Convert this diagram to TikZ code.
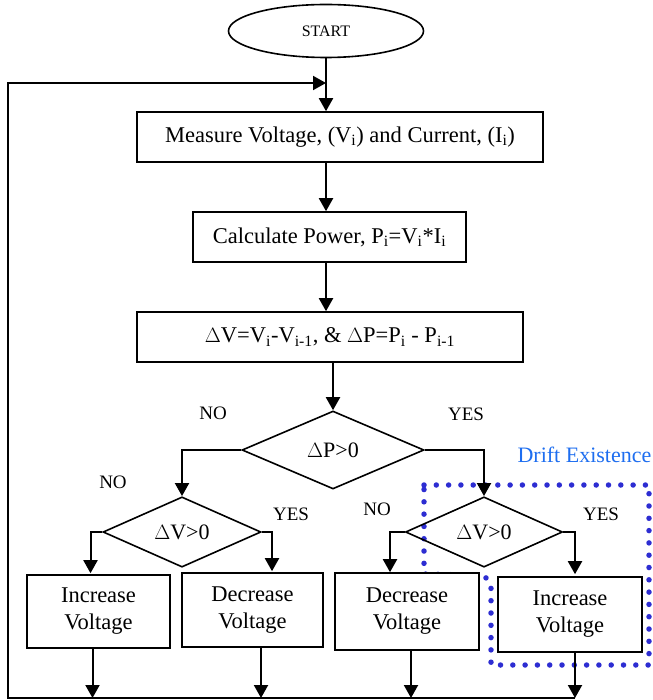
\documentclass[tikz,border=0pt]{standalone}
\usepackage{fontspec}
\setmainfont{Liberation Serif}
\usetikzlibrary{shapes.geometric,arrows.meta,calc}
\definecolor{driftblue}{RGB}{30,110,240}
\definecolor{dotblue}{RGB}{45,45,210}
\tikzset{
  box/.style={draw, fill=white, line width=1.6pt, inner sep=2pt, font=\fontsize{22.5}{27}\selectfont, align=center},
  dec/.style={draw, diamond, line width=1.6pt, inner sep=0pt, font=\fontsize{22}{25}\selectfont},
  arr/.style={line width=2pt, -{Triangle[length=13pt,width=14pt]}},
  lbl/.style={font=\fontsize{19}{20}\selectfont},
  dotline/.style={dotblue, line width=5.5pt, line cap=round, dash pattern=on 0pt off 12.3pt}
}
\begin{document}
\begin{tikzpicture}[x=1pt,y=-1pt]
\clip (0,0) rectangle (652,700);
\fill[white] (0,0) rectangle (652,700);
% drift box (behind the boxes)
\draw[dotline] (424,485) -- (649,485) -- (649,665) -- (491,665) -- (491,584) -- (484,575.5) -- (424,574) -- cycle;
% nodes
\node[draw, ellipse, line width=1.6pt, minimum width=195pt, minimum height=53pt, font=\fontsize{16}{18}\selectfont] (start) at (326,31) {START};
\node[box, minimum width=406pt, minimum height=50pt] (b1) at (340,137) {Measure Voltage, (V\textsubscript{i}) and Current, (I\textsubscript{i})};
\node[box, minimum width=273pt, minimum height=50pt] (b2) at (329.5,237) {Calculate Power, P\textsubscript{i}=V\textsubscript{i}*I\textsubscript{i}};
\node[box, minimum width=386pt, minimum height=50pt] (b3) at (330,337) {$\Delta$V=V\textsubscript{i}-V\textsubscript{i-1}, \& $\Delta$P=P\textsubscript{i} - P\textsubscript{i-1}};
\node[dec, minimum width=182pt, minimum height=78pt] (d1) at (333,450) {$\Delta$P>0};
\node[dec, minimum width=158pt, minimum height=64pt] (d2) at (182,532) {$\Delta$V>0};
\node[dec, minimum width=157pt, minimum height=64pt] (d3) at (484,532) {$\Delta$V>0};
\node[box, minimum width=143pt, minimum height=73pt] (bA) at (98.5,611.5) {Increase\\Voltage};
\node[box, minimum width=141pt, minimum height=74pt] (bB) at (252.5,610) {Decrease\\Voltage};
\node[box, minimum width=144pt, minimum height=77pt] (bC) at (407,611.5) {Decrease\\Voltage};
\node[box, minimum width=144pt, minimum height=75pt] (bD) at (570,614.5) {Increase\\Voltage};
% labels
\node[lbl] (n1) at (213,413) {NO};
\node[lbl] (y1) at (466,414) {YES};
\node[lbl] (n2) at (113,482) {NO};
\node[lbl] (y2) at (291,514) {YES};
\node[lbl] (n3) at (377,509) {NO};
\node[lbl] (y3) at (601,514) {YES};
\node[font=\fontsize{22}{24}\selectfont, text=driftblue, anchor=west] (drift) at (514,455) {Drift Existence};
% coordinates
\coordinate (j) at (326,83);
\coordinate (ll) at (8,698);
\coordinate (eA) at (92.5,698);
\coordinate (eB) at (261,698);
\coordinate (eC) at (411,698);
\coordinate (eD) at (575,698);
% main flow
\draw[arr] (start.south) -- (start.south |- b1.north);
\draw[arr] (start.south |- b1.south) -- (start.south |- b2.north);
\draw[arr] (start.south |- b2.south) -- (start.south |- b3.north);
\draw[arr] (d1.north |- b3.south) -- (d1.north);
\draw[arr] (d1.west) -| (d2.north);
\draw[arr] (d1.east) -| (d3.north);
\draw[arr] (d2.west) -| ($(bA.north)+(-8,-1)$);
\draw[arr] (d2.east) -| ($(bB.north)+(19.5,-1)$);
\draw[arr] (d3.west) -| ($(bC.north)+(-17,0)$);
\draw[arr] (d3.east) -| ($(bD.north)+(5,-2)$);
% outputs
\draw[arr] (eA |- bA.south) -- (eA);
\draw[arr] (eB |- bB.south) -- (eB);
\draw[arr] (eC |- bC.south) -- (eC);
\draw[arr] (eD |- bD.south) -- (eD);
\draw[arr] (eD) -- (ll) -- (ll |- j) -- (j);
\end{tikzpicture}
\end{document}
